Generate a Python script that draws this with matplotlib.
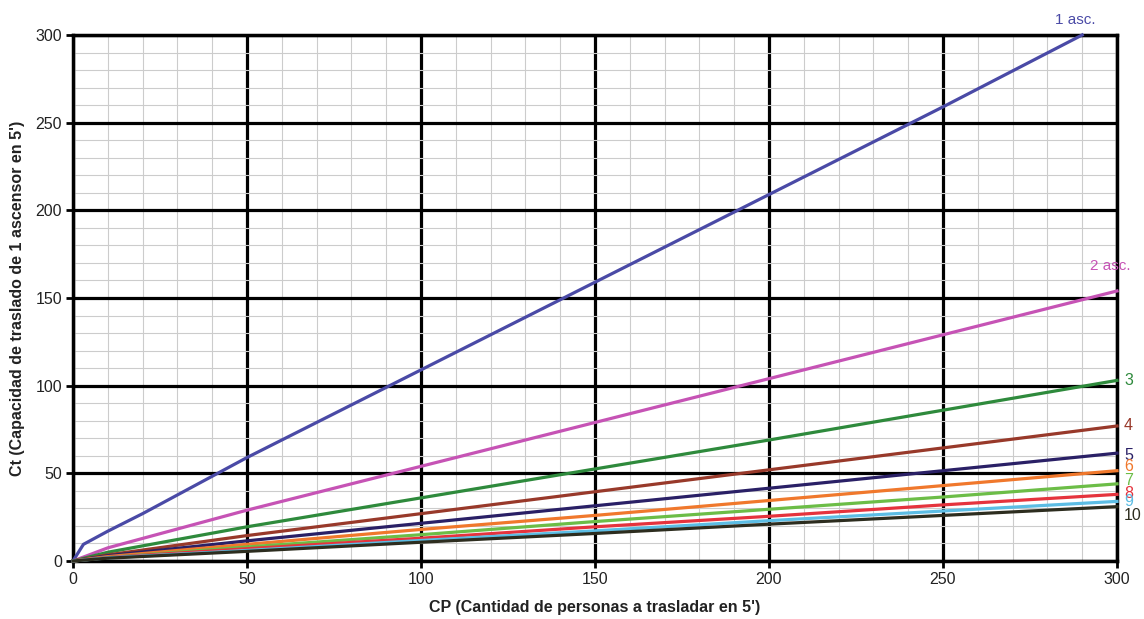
import matplotlib
matplotlib.use("Agg")
import matplotlib.pyplot as plt
from matplotlib.ticker import MultipleLocator

plt.rcParams['font.family'] = ['Liberation Sans', 'DejaVu Sans']

# Data
x_one = [0, 3, 10, 20, 50, 100, 150, 200, 250, 290]
y_one = [0, 9.5, 17, 27, 59, 109, 159, 209, 259, 300]

x_all = [0, 10, 50, 100, 150, 200, 250, 300]
series = {
    "2":  [0, 7.5, 29, 54, 79, 104, 129, 154],
    "3":  [0, 5, 19.5, 36, 52.5, 69, 86, 103],
    "4":  [0, 3.5, 14.5, 27, 39.5, 52, 64.5, 77],
    "5":  [0, 3, 11.5, 21.5, 31.5, 41.5, 51.5, 61.5],
    "6":  [0, 2.5, 9.5, 18, 26, 34.5, 43, 51.5],
    "7":  [0, 2, 8, 15, 22.5, 29.5, 36.5, 44],
    "8":  [0, 2, 7, 13, 19.5, 25.5, 32, 38],
    "9":  [0, 1.8, 6, 11.7, 17.2, 23, 28.5, 34],
    "10": [0, 1.6, 5.5, 10.7, 15.7, 21, 26, 31],
}
colors = {
    "1": "#4a4aa6", "2": "#c653b5", "3": "#2e8a3c", "4": "#98392a",
    "5": "#2a2066", "6": "#f0782c", "7": "#6cbd47", "8": "#e5333d",
    "9": "#5cbde4", "10": "#2d2d1f",
}
end_labels = ["3", "4", "5", "6", "7", "8", "9", "10"]
end_label_y = [103, 77, 60, 54, 46, 38.5, 34, 26]

fig = plt.figure(figsize=(11.44, 6.19), dpi=100)
ax = fig.add_axes([0.0638, 0.0937, 0.9126, 0.8498])

ax.set_xlim(0, 300)
ax.set_ylim(0, 300)
ax.xaxis.set_major_locator(MultipleLocator(50))
ax.yaxis.set_major_locator(MultipleLocator(50))
ax.xaxis.set_minor_locator(MultipleLocator(10))
ax.yaxis.set_minor_locator(MultipleLocator(10))
ax.grid(which='minor', color='#cccccc', linewidth=0.8)
ax.grid(which='major', color='black', linewidth=2.3)
ax.set_axisbelow(True)
for s in ax.spines.values():
    s.set_linewidth(2.5)
    s.set_color('black')
ax.tick_params(which='major', length=5, width=2, labelsize=11.5, colors='black', pad=3)
ax.tick_params(which='minor', length=0)
for lbl in ax.get_xticklabels() + ax.get_yticklabels():
    lbl.set_color('#222222')

ax.plot(x_one, y_one, color=colors["1"], linewidth=2.3, clip_on=False, zorder=3)
for k, v in series.items():
    ax.plot(x_all, v, color=colors[k], linewidth=2.3, clip_on=False, zorder=3)

ax.text(288, 308.5, "1 asc.", color=colors["1"], fontsize=11, ha='center', va='center', clip_on=False)
ax.text(298, 168, "2 asc.", color=colors["2"], fontsize=11, ha='center', va='center', clip_on=False)
for k, yy in zip(end_labels, end_label_y):
    ax.text(302, yy, k, color=colors[k], fontsize=11.5, ha='left', va='center', clip_on=False)

ax.set_xlabel("CP (Cantidad de personas a trasladar en 5')", fontsize=11.5, fontweight='bold', color='#222222')
ax.xaxis.set_label_coords(0.5, -0.074)
ax.set_ylabel("Ct (Capacidad de traslado de 1 ascensor en 5')", fontsize=11.5, fontweight='bold', color='#222222')
ax.yaxis.set_label_coords(-0.046, 0.5)

fig.savefig("out.png", dpi=100)
